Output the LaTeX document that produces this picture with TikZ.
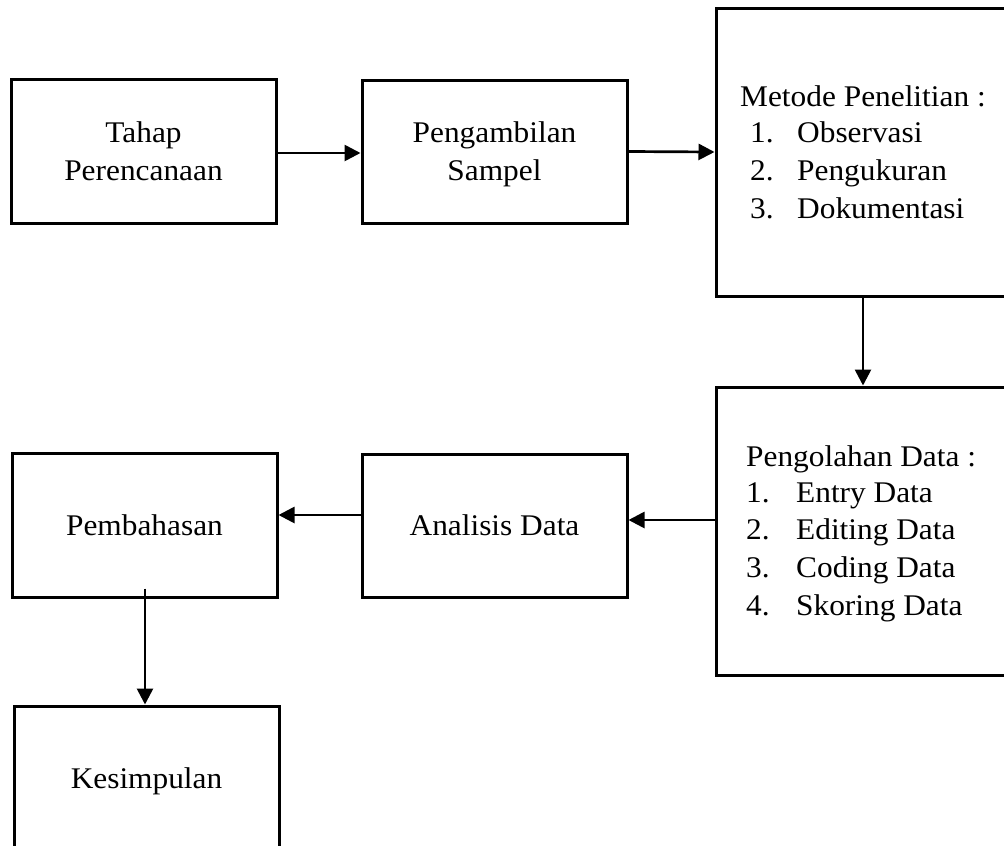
\documentclass[tikz,border=0pt]{standalone}
\usepackage{fontspec}
\setmainfont[FakeStretch=1.045]{Liberation Serif}
\usetikzlibrary{arrows.meta}
\begin{document}
\begin{tikzpicture}[x=1pt,y=-1pt,
  box/.style={draw=black,line width=3pt,rectangle,inner sep=0pt,align=center,font=\fontsize{30}{38}\selectfont},
  lbl/.style={anchor=base west,inner sep=0pt,font=\fontsize{30}{38}\selectfont},
  arr/.style={line width=2.7pt,-{Triangle[length=16pt,width=16pt]}}]
\useasboundingbox[fill=white] (0,0) rectangle (1004,846);
% boxes
\node[box,minimum width=265pt,minimum height=144pt] (tahap) at (143.5,151) {Tahap\\Perencanaan};
\node[box,minimum width=265pt,minimum height=143pt] (sampel) at (494.5,151.5) {Pengambilan\\\raisebox{0pt}[\height][0pt]{Sampel}};
\node[box,minimum width=298pt,minimum height=288pt] (metode) at (865,152) {};
\node[box,minimum width=298pt,minimum height=288pt] (olah) at (865,531) {};
\node[box,minimum width=265pt,minimum height=143pt] (analisis) at (494.5,525.5) {Analisis Data};
\node[box,minimum width=265pt,minimum height=144pt] (bahas) at (144.5,525) {Pembahasan};
\node[box,minimum width=265pt,minimum height=150pt] (simpul) at (146.5,781) {Kesimpulan};
% list texts
\node[lbl] (mt0) at (740,106) {Metode Penelitian :};
\node[lbl] (mt1) at (750,142) {\makebox[47pt][l]{1.}Observasi};
\node[lbl] (mt2) at (750,180) {\makebox[47pt][l]{2.}Pengukuran};
\node[lbl] (mt3) at (750,218) {\makebox[47pt][l]{3.}Dokumentasi};
\node[lbl] (pd0) at (746,466) {Pengolahan Data :};
\node[lbl] (pd1) at (746,502) {\makebox[50pt][l]{1.}Entry Data};
\node[lbl] (pd2) at (746,539) {\makebox[50pt][l]{2.}Editing Data};
\node[lbl] (pd3) at (746,577) {\makebox[50pt][l]{3.}Coding Data};
\node[lbl] (pd4) at (746,615) {\makebox[50pt][l]{4.}Skoring Data};
% arrows
\draw[arr] ([yshift=-2pt]tahap.east) -- ([yshift=-1.5pt]sampel.west);
\draw[arr] (sampel.east) -- (metode.west);
\draw[arr] ([xshift=-2pt]metode.south) -- ([xshift=-2pt]olah.north);
\draw[arr] ([yshift=11pt]olah.west) -- ([yshift=5.5pt]analisis.east);
\draw[arr] ([yshift=10.5pt]analisis.west) -- ([yshift=10pt]bahas.east);
\draw[arr] ([xshift=0.5pt,yshift=10pt]bahas.south) -- ([xshift=-1.5pt]simpul.north);
\end{tikzpicture}
\end{document}
